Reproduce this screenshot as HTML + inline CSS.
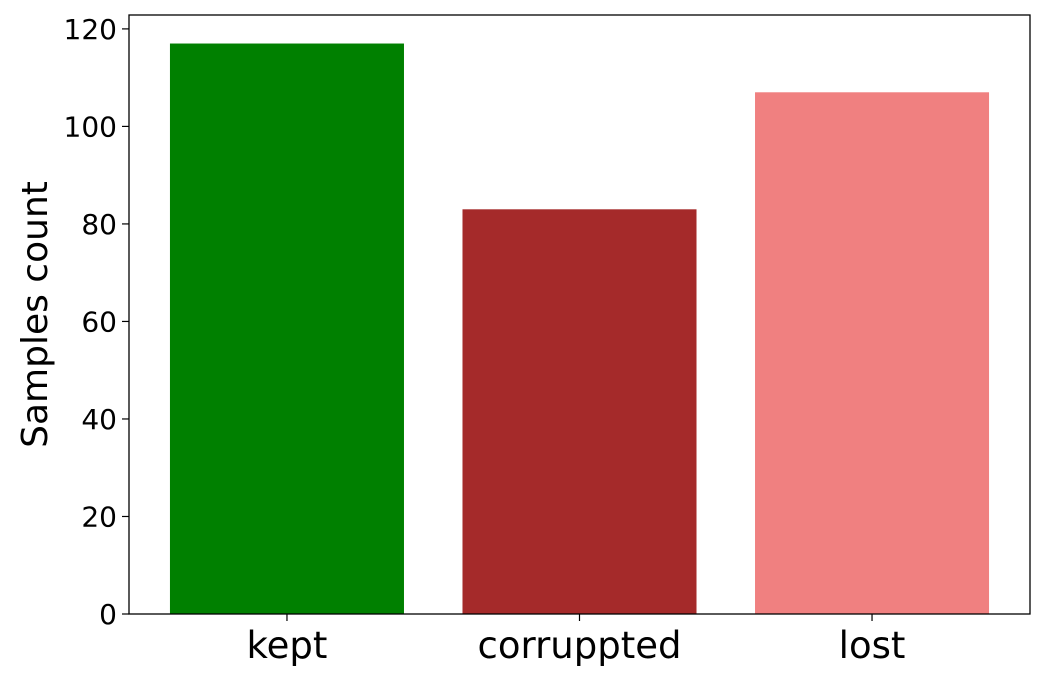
<!DOCTYPE html>
<html><head><meta charset="utf-8"><style>
html,body{margin:0;padding:0;background:#fff;}
svg{display:block;font-family:"DejaVu Sans","Liberation Sans",sans-serif;}
</style></head><body>
<svg id="chart" width="1045" height="681">
<g id="plot"></g>
</svg>
<script>
const categories = ["kept", "corruppted", "lost"];
const values = [117, 83, 107];
const barColors = ["#008000", "#a52a2a", "#f08080"];
const yTicks = [0, 20, 40, 60, 80, 100, 120];

const L = 129, R = 1030, T = 15, B = 614;
const yMax = Math.max(...values) * 1.05;
const xMin = -0.54, xMax = categories.length - 1 + 0.54;
const xs = v => L + (v - xMin) / (xMax - xMin) * (R - L);
const ys = v => B - v / yMax * (B - T);
const NS = "http://www.w3.org/2000/svg";
const g = document.getElementById("plot");
function mk(tag, attrs, text) {
  const e = document.createElementNS(NS, tag);
  for (const k in attrs) e.setAttribute(k, attrs[k]);
  if (text !== undefined) e.textContent = text;
  g.appendChild(e);
  return e;
}
categories.forEach((c, i) => {
  const x0 = xs(i - 0.4), x1 = xs(i + 0.4);
  const b = mk("rect", {x: x0, y: ys(values[i]), width: x1 - x0, height: B - ys(values[i]), fill: barColors[i]});
  
  
  const t = mk("line", {x1: xs(i), x2: xs(i), y1: B, y2: B + 7, stroke: "#000", "stroke-width": 1.2});
  
  
  const l = mk("text", {x: xs(i), y: B + 44, "text-anchor": "middle", "font-size": 37}, c);
  
  
});
yTicks.forEach(v => {
  const t = mk("line", {x1: L - 7, x2: L, y1: ys(v), y2: ys(v), stroke: "#000", "stroke-width": 1.2});
  
  
  const l = mk("text", {x: L - 12, y: ys(v) + 10, "text-anchor": "end", "font-size": 28}, v);
  
  
});
const frame = mk("rect", {x: L, y: T, width: R - L, height: B - T, fill: "none", stroke: "#000", "stroke-width": 1.3});


const yt = mk("text", {x: 47, y: (T + B) / 2, "text-anchor": "middle", "font-size": 36, transform: "rotate(-90 47 " + (T + B) / 2 + ")"}, "Samples count");


</script>
</body></html>
